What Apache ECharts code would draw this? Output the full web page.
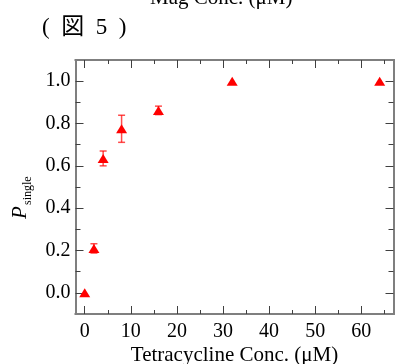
<!DOCTYPE html>
<html>
<head>
<meta charset="utf-8">
<script src="https://cdn.jsdelivr.net/npm/echarts@6/dist/echarts.min.js"></script>
<style>
  html, body { margin: 0; padding: 0; background: #fff; }
  #chart { width: 395px; height: 364px; }
</style>
</head>
<body>
<div id="chart"></div>
<script>
// tetracycline concentration (uM) and single-cell probability
const conc = [0, 2, 4, 8, 16, 32, 64];
const pSingle = [0.0, 0.21, 0.635, 0.775, 0.862, 1.0, 1.0];
const pErr = [0, 0.022, 0.035, 0.064, 0.02, 0, 0];

const xMajor = [0, 10, 20, 30, 40, 50, 60];
const xMinor = [5, 15, 25, 35, 45, 55, 65];
const yMajor = [0, 0.2, 0.4, 0.6, 0.8, 1.0];
const yMinor = [0.1, 0.3, 0.5, 0.7, 0.9];

const SERIF = '"Liberation Serif", "DejaVu Serif", serif';
const AXIS_GRAY = '#7f7f7f';

const chart = echarts.init(document.getElementById('chart'));

function axis(kind, position, ticks, len, withLabels, extra) {
  const base = {
    type: 'value',
    position: position,
    min: kind === 'x' ? -2 : -0.1,
    max: kind === 'x' ? 67 : 1.1,
    axisLine: { show: true, onZero: false, lineStyle: { color: AXIS_GRAY, width: 2 } },
    axisTick: {
      show: true, inside: true, length: len, customValues: ticks,
      lineStyle: { color: '#404040', width: 1 }
    },
    axisLabel: withLabels ? {
      show: true, customValues: ticks, color: '#000',
      fontFamily: SERIF, fontSize: 20, margin: kind === 'x' ? 8 : 5,
      formatter: v => kind === 'x' ? String(Math.round(v)) : Number(v).toFixed(1)
    } : { show: false },
    splitLine: { show: false }
  };
  return Object.assign(base, extra || {});
}

const errData = conc.map((c, i) => [c, pSingle[i], pErr[i]]).filter(d => d[2] > 0);

const option = {
  animation: false,
  backgroundColor: '#fff',
  grid: { left: 75.5, top: 60, width: 318, height: 254, containLabel: false, outerBoundsMode: 'none' },
  xAxis: [
    axis('x', 'bottom', xMajor, 8, true, {
      name: 'Tetracycline Conc. (\u03bcM)', nameLocation: 'middle', nameGap: 31,
      nameMoveOverlap: false,
      nameTextStyle: { color: '#000', fontFamily: SERIF, fontSize: 21 }
    }),
    axis('x', 'bottom', xMinor, 4, false),
    axis('x', 'top', xMajor, 8, false),
    axis('x', 'top', xMinor, 4, false)
  ],
  yAxis: [
    axis('y', 'left', yMajor, 8, true),
    axis('y', 'left', yMinor, 5, false),
    axis('y', 'right', yMajor, 8, false),
    axis('y', 'right', yMinor, 5, false)
  ],
  graphic: [
    {
      type: 'text', left: 150, top: -12,
      style: { text: 'Mag Conc. (\u03bcM)', font: '21px ' + SERIF, fill: '#000' }
    },
    {
      type: 'text', left: 42, top: 16,
      style: { text: '(  \u56f3  5  )', font: '23px ' + SERIF + ', "Noto Sans CJK JP"', fill: '#000' }
    },
    {
      type: 'group', x: 20, y: 219, rotation: Math.PI / 2,
      children: [
        {
          type: 'text', x: 0, y: 0,
          style: { text: 'P', font: 'italic 21px ' + SERIF, fill: '#000', verticalAlign: 'middle', align: 'left' }
        },
        {
          type: 'text', x: 14, y: 8,
          style: { text: 'single', font: '12px ' + SERIF, fill: '#000', verticalAlign: 'middle', align: 'left' }
        }
      ]
    }
  ],
  series: [
    {
      type: 'custom',
      xAxisIndex: 0, yAxisIndex: 0,
      z: 2,
      data: errData,
      renderItem: function (params, api) {
        const x = api.value(0), y = api.value(1), e = api.value(2);
        const top = api.coord([x, y + e]);
        const bot = api.coord([x, y - e]);
        const hw = 3.5;
        const st = { stroke: 'rgba(255,0,0,0.7)', lineWidth: 1.5 };
        return {
          type: 'group',
          children: [
            { type: 'line', shape: { x1: top[0], y1: top[1], x2: bot[0], y2: bot[1] }, style: st },
            { type: 'line', shape: { x1: top[0] - hw, y1: top[1], x2: top[0] + hw, y2: top[1] }, style: st },
            { type: 'line', shape: { x1: bot[0] - hw, y1: bot[1], x2: bot[0] + hw, y2: bot[1] }, style: st }
          ]
        };
      }
    },
    {
      type: 'scatter',
      xAxisIndex: 0, yAxisIndex: 0,
      z: 3,
      symbol: 'triangle',
      symbolSize: [11, 9],
      itemStyle: { color: '#ff0000', opacity: 1 },
      data: conc.map((c, i) => [c, pSingle[i]])
    }
  ]
};

chart.setOption(option);
</script>
</body>
</html>
